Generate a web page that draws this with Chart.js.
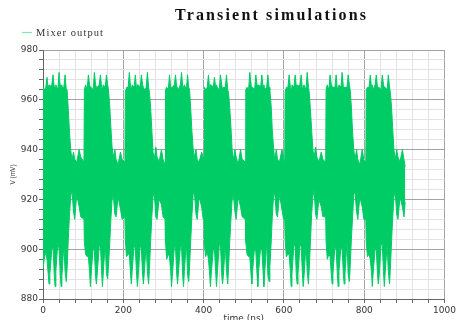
<!DOCTYPE html>
<html>
<head>
<meta charset="utf-8">
<script src="https://cdn.jsdelivr.net/npm/chart.js@4/dist/chart.umd.min.js"></script>
<style>html,body{margin:0;padding:0;background:#fff}#c{display:block}</style>
</head>
<body>
<canvas id="c" width="458" height="320"></canvas>
<script>
const chartTitle = 'Transient simulations';
const seriesName = 'Mixer output';
const xTitle = 'time (ns)';
const yTitle = 'V (mV)';
const xTicks = [0, 200, 400, 600, 800, 1000];
const yTicks = [880, 900, 920, 940, 960, 980];

// envelope of the mixer output (time in ns)
const time = [
  0,3,7,10,13,15,17,22,25,28,30,32,37,40,43,45,47,52,55,58,60,63,66,69,72,76,79,84,90,94,102,
  103,106,110,113,116,118,120,125,128,131,133,135,140,143,146,148,150,155,158,161,163,166,169,172,175,179,182,187,193,197,204,
  205,208,212,215,218,220,222,227,230,233,235,237,242,245,248,250,252,257,260,263,265,268,271,274,277,281,284,289,295,299,304,
  305,308,312,315,318,320,322,327,330,333,335,337,342,345,348,350,352,357,360,363,365,368,371,374,377,381,384,389,395,399,401,
  402,405,409,412,415,417,419,424,427,430,432,434,439,442,445,447,449,454,457,460,462,465,468,471,474,478,481,486,492,496,504,
  505,508,512,515,518,520,522,527,530,533,535,537,542,545,548,550,552,557,560,563,565,568,571,574,577,581,584,589,595,599,602,
  603,606,610,613,616,618,620,625,628,631,633,635,640,643,646,648,650,655,658,661,663,666,669,672,675,679,682,687,693,697,704,
  705,708,712,715,718,720,722,727,730,733,735,737,742,745,748,750,752,757,760,763,765,768,771,774,777,781,784,789,795,799,804,
  805,808,812,815,818,820,822,827,830,833,835,837,842,845,848,850,852,857,860,863,865,868,871,874,877,881,884,889,895,899,902
];
// upper envelope (mV)
const upper = [
  965,964,965,969,964,966,965,966,970,965,965,966,964,971,965,966,965,965,970,964,964,956,947,940,936,939,936,935,940,937,935,
  964,966,964,970,966,965,965,964,971,966,965,965,966,970,965,964,966,965,970,966,964,958,949,941,937,940,936,934,939,936,935,
  963,965,965,971,965,964,966,965,970,964,966,966,965,970,966,965,964,965,971,965,963,957,948,939,936,941,937,935,940,936,934,
  964,965,964,970,965,965,965,966,970,965,965,964,966,971,965,965,966,964,970,965,964,956,947,940,937,940,936,935,939,937,935,
  965,964,965,970,964,966,966,965,969,965,966,965,964,970,966,964,965,965,970,964,963,957,949,940,936,940,937,934,940,936,935,
  964,965,964,971,965,965,965,964,970,966,965,966,965,970,965,966,964,965,970,965,964,958,948,941,936,940,936,935,940,937,934,
  963,965,965,970,965,964,966,965,970,965,966,965,966,970,964,965,966,964,971,965,963,956,948,940,937,941,937,935,939,936,935,
  964,966,964,970,966,965,965,965,970,964,965,966,965,971,965,965,965,965,970,966,964,957,947,940,936,940,936,934,940,936,935,
  964,965,965,970,965,966,964,966,970,965,965,965,964,970,966,965,965,964,970,965,963,957,948,940,936,940,937,935,940,936,933
];
// lower envelope (mV)
const lower = [
  892,896,899,896,890,886,890,900,901,890,885,891,903,900,890,885,889,902,891,887,892,904,914,921,924,915,912,922,917,913,912,
  903,898,897,897,891,885,890,901,899,889,886,890,901,902,891,885,890,903,890,888,893,902,912,920,922,914,913,921,916,912,913,
  904,897,898,898,890,886,891,902,900,890,885,889,902,900,890,886,890,902,891,886,892,903,913,921,923,913,912,920,918,913,912,
  903,896,898,897,891,885,889,901,901,890,886,890,901,901,889,885,891,903,890,887,893,904,914,922,923,914,912,921,917,912,913,
  902,897,899,896,890,885,890,900,900,891,885,890,902,902,890,886,889,902,891,886,892,903,912,920,922,915,912,921,917,913,912,
  903,898,897,897,890,886,891,901,899,890,885,891,901,900,891,885,890,903,890,887,893,902,913,921,923,914,913,922,916,912,912,
  904,897,898,898,891,885,890,902,901,889,886,890,902,901,890,885,889,902,891,886,892,903,914,921,924,914,912,920,917,913,913,
  903,896,898,897,890,886,890,901,900,890,885,891,901,900,890,886,890,903,890,887,893,904,913,922,923,915,912,921,917,912,912,
  903,897,898,896,891,885,890,900,900,890,886,889,902,902,891,885,890,902,891,886,892,903,913,921,923,914,912,921,917,913,919
];

const GREEN = '#00cc66';

function drawSpaced(ctx, text, x, y, targetW) {
  ctx.letterSpacing = '0px';
  const w = ctx.measureText(text).width;
  const sp = Math.max(0, (targetW - w) / (text.length - 1));
  ctx.letterSpacing = sp.toFixed(2) + 'px';
  ctx.textAlign = 'left';
  ctx.fillText(text, x, y);
  ctx.letterSpacing = '0px';
}

const decoPlugin = {
  id: 'deco',
  afterDraw(chart) {
    const ctx = chart.ctx;
    ctx.save();
    ctx.textBaseline = 'alphabetic';
    ctx.fillStyle = '#111';
    ctx.font = 'bold 16px "Liberation Serif"';
    drawSpaced(ctx, chartTitle, 175, 20, 191);
    ctx.strokeStyle = '#7fe6b2';
    ctx.lineWidth = 1.2;
    ctx.beginPath();
    ctx.moveTo(22, 32.5);
    ctx.lineTo(32, 32.5);
    ctx.stroke();
    ctx.fillStyle = '#333';
    ctx.font = '10.5px "Liberation Serif"';
    drawSpaced(ctx, seriesName, 36, 36, 67);
    ctx.restore();
  }
};

const upperPts = time.map((t, i) => ({x: t, y: upper[i]}));
const lowerPts = time.map((t, i) => ({x: t, y: lower[i]}));

new Chart(document.getElementById('c'), {
  type: 'line',
  data: {
    datasets: [
      { label: seriesName, data: upperPts, borderColor: GREEN, backgroundColor: GREEN,
        borderWidth: 1, pointRadius: 0, tension: 0, fill: false },
      { label: seriesName + ' (lower)', data: lowerPts, borderColor: GREEN, backgroundColor: GREEN,
        borderWidth: 1, pointRadius: 0, tension: 0, fill: '-1' }
    ]
  },
  options: {
    responsive: false,
    animation: false,
    events: [],
    layout: { padding: { top: 50, left: 0, right: 13, bottom: 0 } },
    plugins: { legend: { display: false }, title: { display: false }, tooltip: { enabled: false } },
    scales: {
      x: {
        type: 'linear',
        min: xTicks[0], max: xTicks[xTicks.length - 1],
        ticks: {
          stepSize: 40, autoSkip: false, maxRotation: 0, minRotation: 0,
          callback: v => xTicks.includes(v) ? String(v) : '',
          color: '#333', font: { family: 'DejaVu Sans', size: 9 }, padding: 2
        },
        grid: {
          color: c => (c.tick && xTicks.includes(c.tick.value)) ? '#a3a3a3' : '#e3e3e3',
          tickColor: '#666', tickLength: 4, lineWidth: 1
        },
        border: { color: '#666' },
        title: { display: true, text: xTitle, color: '#333',
          font: { family: 'DejaVu Sans', size: 9 }, padding: { top: 0, bottom: -4 } },
        afterFit(s) { s.height = 21; }
      },
      y: {
        type: 'linear',
        min: yTicks[0], max: yTicks[yTicks.length - 1],
        ticks: {
          stepSize: 4, autoSkip: false,
          callback: v => yTicks.includes(v) ? String(v) : '',
          color: '#333', font: { family: 'DejaVu Sans', size: 9 }, padding: 1
        },
        grid: {
          color: c => (c.tick && yTicks.includes(c.tick.value)) ? '#a3a3a3' : '#e3e3e3',
          tickColor: '#666', tickLength: 4, lineWidth: 1
        },
        border: { color: '#666' },
        title: { display: true, text: yTitle, color: '#333',
          font: { family: 'Liberation Sans', size: 6.5 }, padding: { top: 9, bottom: 0 } },
        afterFit(s) { s.width = 43; }
      }
    }
  },
  plugins: [decoPlugin]
});
</script>
</body>
</html>
